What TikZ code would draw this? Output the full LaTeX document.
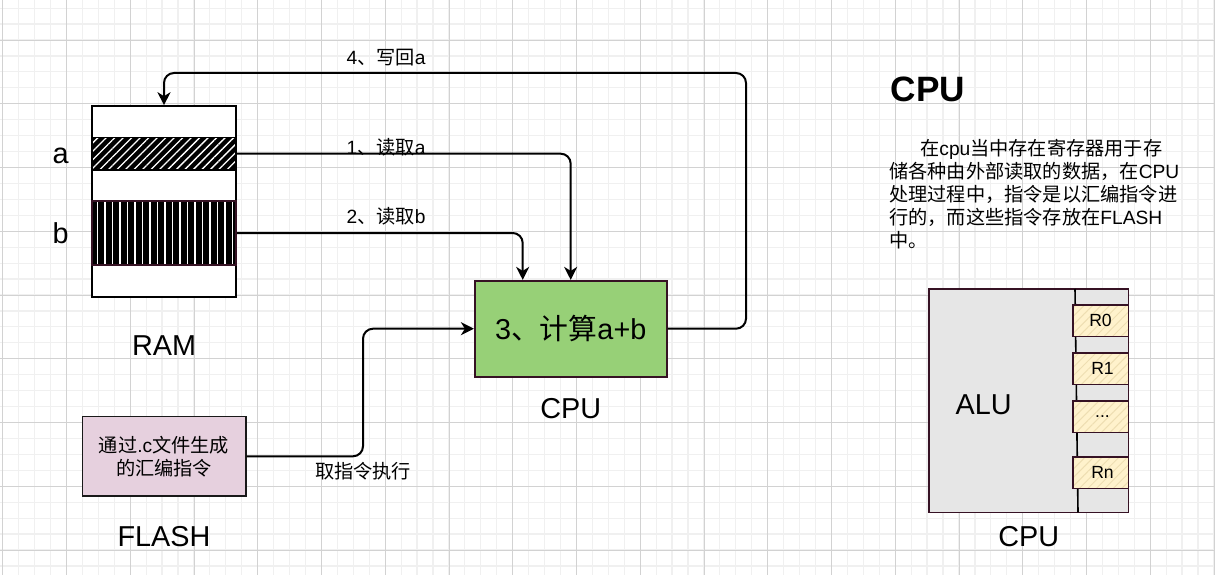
\documentclass[tikz,border=0pt]{standalone}
\usepackage{fontspec}
\setmainfont{Liberation Sans}
\newfontfamily\cjk{Noto Sans CJK SC}
\usetikzlibrary{arrows.meta, patterns.meta, positioning}

\definecolor{gridLight}{RGB}{240,240,240}
\definecolor{gridDark}{RGB}{210,210,210}
\definecolor{edgeDark}{RGB}{54,18,36}
\definecolor{cpuGreen}{RGB}{151,208,119}
\definecolor{flashPink}{RGB}{230,208,222}
\definecolor{aluGray}{RGB}{230,230,230}
\definecolor{regYellow}{RGB}{255,242,204}
\definecolor{regHatch}{RGB}{238,222,178}

\tikzset{
  gridMinor/.style={draw=gridLight, line width=1.2pt},
  gridMajor/.style={draw=gridDark, line width=0.9pt},
  flow/.style={draw, line width=2pt, rounded corners=10pt,
    -{Stealth[length=13pt, width=13pt, inset=4pt]}},
  ramBox/.style={draw=black, fill=white, line width=1.6pt, inner sep=0pt,
    minimum width=144pt, minimum height=191pt},
  stripeA/.style={draw=black, line width=1.6pt, inner sep=0pt,
    minimum width=144pt, minimum height=32.7pt, preaction={fill=black},
    pattern={Lines[angle=45, distance=6pt, line width=1.3pt]}, pattern color=white},
  stripeB/.style={draw=edgeDark, line width=1.6pt, inner sep=0pt,
    minimum width=144pt, minimum height=64pt, preaction={fill=black},
    pattern={Lines[angle=90, distance=7.5pt, line width=1.5pt]}, pattern color=white},
  cpuBox/.style={draw=edgeDark, fill=cpuGreen, line width=1.6pt,
    minimum width=192pt, minimum height=96pt, font=\fontsize{28.8}{34}\selectfont},
  flashBox/.style={draw=black!90, fill=flashPink, line width=1.6pt, align=center,
    minimum width=163.4pt, minimum height=79.3pt, font=\fontsize{19.2}{23}\selectfont},
  aluBox/.style={draw=edgeDark, fill=aluGray, line width=1.6pt,
    minimum width=199.3pt, minimum height=223.3pt},
  regBox/.style={draw=edgeDark, line width=1.6pt, inner sep=0pt,
    minimum width=55.6pt, minimum height=31.6pt, preaction={fill=regYellow},
    pattern={Lines[angle=45, distance=6pt, line width=1pt]}, pattern color=regHatch,
    font=\fontsize{17.6}{21}\selectfont},
  busLine/.style={draw=black, line width=1.6pt},
  bigLabel/.style={font=\fontsize{28.8}{34}\selectfont, inner sep=0pt},
  edgeText/.style={font=\fontsize{19.2}{23}\selectfont, inner sep=0pt},
  titleText/.style={font=\fontsize{35.2}{40}\bfseries\selectfont, inner sep=0pt},
  descText/.style={font=\fontsize{19.2}{23}\selectfont, align=left,
    anchor=north west, inner sep=0pt}
}

\begin{document}
\begin{tikzpicture}[x=1pt, y=-1pt]
\fill[white] (0,0) rectangle (1215,575);
\useasboundingbox (0,0) rectangle (1215,575);
% grid
\foreach \k in {0,...,76}
  \draw[gridMinor] ({2.7+15.9375*\k},0) -- ++(0,575);
\foreach \k in {0,...,35}
  \draw[gridMinor] (0,{8.125+15.9375*\k}) -- ++(1215,0);
\foreach \k in {0,...,19}
  \draw[gridMajor] ({2.7+63.75*\k},0) -- ++(0,575);
\foreach \k in {0,...,8}
  \draw[gridMajor] (0,{40+63.75*\k}) -- ++(1215,0);

% RAM
\node[ramBox] (ram) at (164,201.5) {};
\node[stripeA] (memA) at (164,153.7) {};
\node[stripeB] (memB) at (164,233) {};
\node[bigLabel] (nameA) at (60.7,155.8) {a};
\node[bigLabel] (nameB) at (60.7,233) {b};
\node[bigLabel, below=38pt of ram] (ramCap) {RAM};

% CPU
\node[cpuBox] (cpu) at (570.7,328.7) {3{\cjk 、计算}a+b};
\node[bigLabel, below=21pt of cpu] (cpuCap) {CPU};
\coordinate (cpuInB) at ([xshift=-48pt]cpu.north);

% FLASH
\node[flashBox] (flash) at (164,456.3) {{\cjk 通过}.c{\cjk 文件生成}\\{\cjk 的汇编指令}};
\node[bigLabel, below=29pt of flash] (flashCap) {FLASH};

% connectors
\coordinate (backTurn) at (746,73);
\coordinate (fetchTurn) at (363,400);
\draw[flow] (memA.east) -| (cpu.north);
\draw[flow] (memB.east) -| (cpuInB);
\draw[flow] (cpu.east) -| (backTurn) -| (ram.north);
\draw[flow] (flash.east) -| (fetchTurn) |- (cpu.west);
\node[edgeText] (lblWrite) at (386,58) {4{\cjk 、写回}a};
\node[edgeText] (lblReadA) at (386,147) {1{\cjk 、读取}a};
\node[edgeText] (lblReadB) at (386,216) {2{\cjk 、读取}b};
\node[edgeText] (lblFetch) at (363,471) {{\cjk 取指令执行}};

% CPU note
\node[titleText] (title) at (928,89) {CPU};
\node[descText] (desc) at (889,138.6) {\hspace*{31pt}{\cjk 在}cpu{\cjk 当中存在寄存器用于存}\\
{\cjk 储各种由外部读取的数据，在}CPU\\
{\cjk 处理过程中，指令是以汇编指令进}\\
{\cjk 行的，而这些指令存放在}FLASH\\
{\cjk 中。}};

% ALU and registers
\node[aluBox] (alu) at (1028.7,400.7) {};
\node[bigLabel] (aluName) at (983.7,405) {ALU};
\coordinate (busTop) at (1075,289);
\coordinate (busBot) at (1078,512.3);
\draw[busLine] (busTop) -- (busBot);
\node[regBox] (r0) at (1100.5,320.8) {R0};
\node[regBox] (r1) at (1100.5,368.5) {\hspace*{4pt}R1};
\node[regBox] (rdots) at (1100.5,416.7) {\hspace*{4pt}...};
\node[regBox] (rn) at (1100.5,472.5) {\hspace*{4pt}Rn};
\node[bigLabel, below=13pt of alu] (aluCap) {CPU};
\end{tikzpicture}
\end{document}
